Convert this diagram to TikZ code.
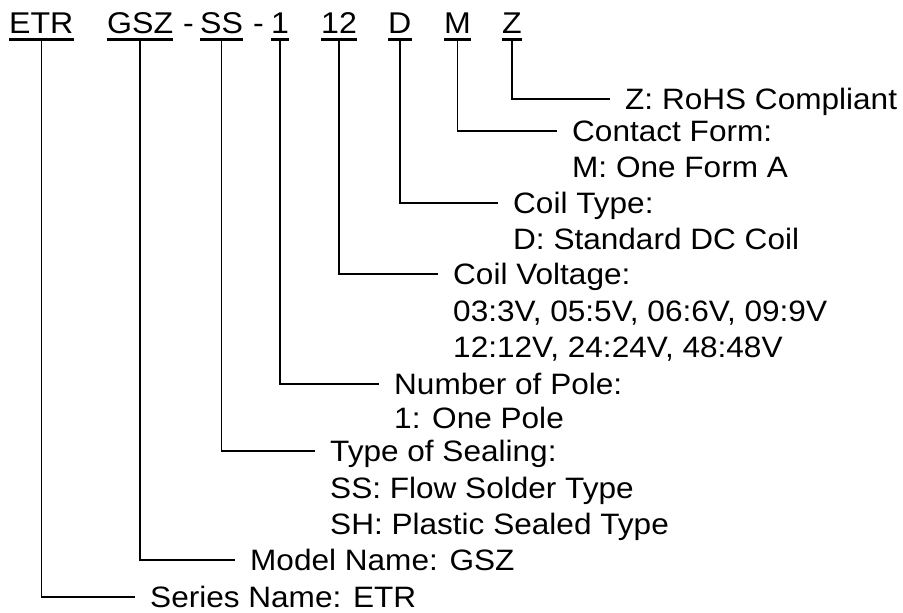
\documentclass[tikz,border=0pt]{standalone}
\usepackage{fontspec}
\setmainfont[FakeStretch=1.07]{Liberation Sans}

\tikzset{
  code/.style={anchor=base west,inner xsep=0pt,inner ysep=5pt,text depth=0pt,
    font=\fontsize{30}{36}\selectfont},
  desc/.style={anchor=west,inner sep=0pt,text height=21pt,text depth=0pt,
    font=\fontsize{29.5}{36}\selectfont},
  uline/.style={line width=3pt},
  lead/.style={line width=1.6pt,shorten >=15pt}
}

\begin{document}
\begin{tikzpicture}[x=1pt,y=-1pt]
  \useasboundingbox (0,0) rectangle (903,613);

  % part number
  \node[code] (etr) at (9,34) {ETR};
  \node[code] (gsz) at (107,34) {GSZ};
  \node[code] (dasha) at (183,34) {-};
  \node[code] (ss) at (200,34) {SS};
  \node[code] (dashb) at (253,34) {-};
  \node[code] (pole) at (271,34) {1};
  \node[code] (volt) at (321,34) {12};
  \node[code] (coil) at (388,34) {D};
  \node[code] (form) at (444,34) {M};
  \node[code] (rohs) at (502,34) {Z};

  \foreach \n in {etr,gsz,ss,pole,volt,coil,form,rohs}
    \draw[uline] (\n.south west) -- (\n.south east);

  % meanings
  \node[desc] (rohst) at (625,99) {Z: RoHS Compliant};
  \node[desc] (formt) at (572,131) {Contact Form:};
  \node[desc] (formo) at (572,167) {M: One Form A};
  \node[desc] (coilt) at (513,203) {Coil Type:};
  \node[desc] (coilo) at (513,239) {D: Standard DC Coil};
  \node[desc] (voltt) at (453,274) {Coil Voltage:};
  \node[desc] (volto) at (453,311) {03:3V, 05:5V, 06:6V, 09:9V};
  \node[desc] (voltp) at (453,347) {12:12V, 24:24V, 48:48V};
  \node[desc] (polet) at (394,384) {Number of Pole:};
  \node[desc] (poleo) at (394,418) {1: One Pole};
  \node[desc] (sst) at (330,451) {Type of Sealing:};
  \node[desc] (sso) at (330,488) {SS: Flow Solder Type};
  \node[desc] (ssp) at (330,524) {SH: Plastic Sealed Type};
  \node[desc] (gszt) at (250,560) {Model Name: GSZ};
  \node[desc] (etrt) at (150,597) {Series Name: ETR};

  \foreach \a/\b in {rohs/rohst,form/formt,coil/coilt,volt/voltt,
                     pole/polet,ss/sst,gsz/gszt,etr/etrt}
    \draw[lead] (\a.south) |- (\b.west);
\end{tikzpicture}
\end{document}
